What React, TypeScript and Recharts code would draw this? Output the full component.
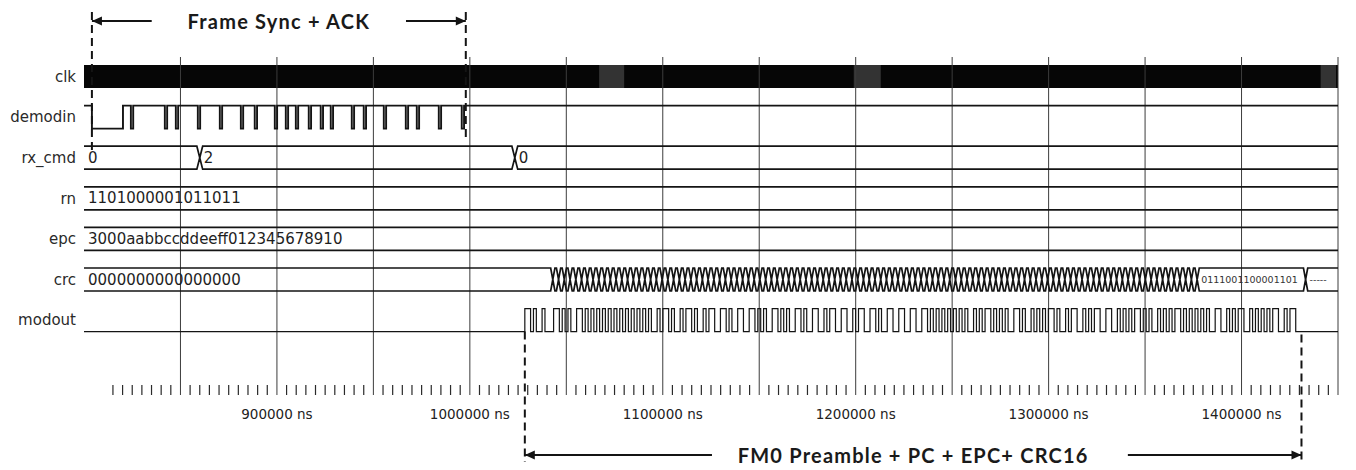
import React from "react"
import {
  ComposedChart,
  Line,
  Scatter,
  XAxis,
  YAxis,
  ReferenceLine,
  ReferenceArea,
  ReferenceDot,
} from "recharts"

// ---- time axis (ns) ----
const timeDomain = [800000, 1450000]
const gridTimes = [
  850000, 900000, 950000, 1000000, 1050000, 1100000, 1150000, 1200000, 1250000, 1300000, 1350000,
  1400000, 1450000,
]
const timeLabels = [900000, 1000000, 1100000, 1200000, 1300000, 1400000]
const rulerFirst = 815000
const rulerStep = 5000

// ---- signals, top to bottom ----
const signalNames = ["clk", "demodin", "rx_cmd", "rn", "epc", "crc", "modout"]

// clk toggles too fast to resolve: a solid band with a few lighter patches
const clkSpan = [800000, 1450000]
const clkPatches = [
  [1067000, 1080000],
  [1199000, 1213000],
  [1441000, 1449000],
]

// demodin: long low, then short low pulses (centre times)
const demodinFall = 804100
const demodinRise = 820200
const demodinPulses = [
  824900, 842500, 848200, 859600, 871000, 881900, 889100, 899500, 905200, 910400, 917100, 923300,
  928500, 939400, 945600, 956000, 967400, 973100, 984500, 996400,
]
const demodinPulseWidth = 1200

// rx_cmd bus
const rxCmdChanges = [860000, 1023300]
const rxCmdValues = ["0", "2", "0"]

const rnValue = "1101000001011011"
const epcValue = "3000aabbccddeeff012345678910"

// crc bus: updated once per PC+EPC bit, then holds the final value
const crcInitial = "0000000000000000"
const crcFinal = "0111001100001101"
const crcTail = "-----"
const crcFirstUpdate = 1043000
const crcTailChange = 1433200

// modout: FM0 encoded reply (preamble + PC/EPC + CRC16 + dummy 1)
const modoutStart = 1028500
const bitNs = 2982
const fm0Preamble = ["1", "0", "1", "0", "v", "1"]
const dummyBit = ["1"]

// ---- lane layout (y axis runs in pixels, 0 at top) ----
const LANE_TOP = 65
const LANE_PITCH = 40.6
const LANE_H = 23
const PLOT_BOTTOM = 395
const hi = (i: number) => LANE_TOP + i * LANE_PITCH
const lo = (i: number) => hi(i) + LANE_H
const mid = (i: number) => hi(i) + LANE_H / 2
const laneCenters = signalNames.map((_, i) => mid(i))

const T0 = timeDomain[0]
const T1 = timeDomain[1]
const INK = "#141414"
const FONT = "'DejaVu Sans', sans-serif"

const hexToBits = (hex: string) =>
  hex
    .split("")
    .map((h) => parseInt(h, 16).toString(2).padStart(4, "0"))
    .join("")
    .split("")

const epcBits = hexToBits(epcValue)
const replyBits = [...fm0Preamble, ...epcBits, ...crcFinal.split(""), ...dummyBit]
const modoutEnd = modoutStart + replyBits.length * bitNs
const crcUpdates = [...epcBits, "final"].map((_, i) => crcFirstUpdate + i * bitNs)
const crcFinalStart = crcUpdates[crcUpdates.length - 1]

function fm0(bits: string[], start: number) {
  let level = 0
  const pts: { t: number; level: number }[] = []
  bits.forEach((b, i) => {
    const t = start + i * bitNs
    if (b !== "v") level = 1 - level
    pts.push({ t, level })
    if (b === "0") {
      level = 1 - level
      pts.push({ t: t + bitNs / 2, level })
    }
  })
  pts.push({ t: start + bits.length * bitNs, level: 0 })
  return pts
}

function busEdges(lane: number, changes: number[], half: number) {
  const top = [{ t: T0, y: hi(lane) }]
  const bot = [{ t: T0, y: lo(lane) }]
  changes.forEach((c) => {
    top.push({ t: c - half, y: hi(lane) }, { t: c, y: mid(lane) }, { t: c + half, y: hi(lane) })
    bot.push({ t: c - half, y: lo(lane) }, { t: c, y: mid(lane) }, { t: c + half, y: lo(lane) })
  })
  top.push({ t: T1, y: hi(lane) })
  bot.push({ t: T1, y: lo(lane) })
  return [top, bot]
}

// series tables
const demodinData = [
  { t: T0, y: hi(1) },
  { t: demodinFall, y: lo(1) },
  { t: demodinRise, y: hi(1) },
]
demodinPulses.forEach((c) => {
  demodinData.push({ t: c - demodinPulseWidth / 2, y: lo(1) }, { t: c + demodinPulseWidth / 2, y: hi(1) })
})
demodinData.push({ t: T1, y: hi(1) })

const modoutData = [
  { t: T0, y: lo(6) },
  ...fm0(replyBits, modoutStart).map((p) => ({ t: p.t, y: p.level ? hi(6) : lo(6) })),
  { t: T1, y: lo(6) },
]

const buses = [
  ...busEdges(2, rxCmdChanges, 1500),
  ...busEdges(3, [], 0),
  ...busEdges(4, [], 0),
  ...busEdges(5, [...crcUpdates, crcTailChange], 1100),
]

const busLabels = [
  { t: T0, y: mid(2), text: rxCmdValues[0] },
  { t: rxCmdChanges[0], y: mid(2), text: rxCmdValues[1] },
  { t: rxCmdChanges[1], y: mid(2), text: rxCmdValues[2] },
  { t: T0, y: mid(3), text: rnValue },
  { t: T0, y: mid(4), text: epcValue },
  { t: T0, y: mid(5), text: crcInitial },
]
const crcSmallLabels = [
  { t: crcFinalStart, y: mid(5), text: crcFinal },
  { t: crcTailChange, y: mid(5), text: crcTail },
]

const rulerTicks: number[] = []
for (let t = rulerFirst; t <= T1; t += rulerStep) rulerTicks.push(t)

function RulerTick(props: any) {
  const { x, y, payload } = props
  const v = payload.value
  const major = v % 50000 === 0
  return (
    <g>
      {!major && <line x1={x} x2={x} y1={y - 10} y2={y} stroke="#2a2a2a" strokeWidth={1.2} />}
      {timeLabels.includes(v) && (
        <text x={x} y={y + 19} textAnchor="middle" dominantBaseline="central" fontFamily={FONT} fontSize={13.5} fill="#222">
          {v} ns
        </text>
      )}
    </g>
  )
}

const bigLabel = (props: any) => (
  <text x={props.cx + 4} y={props.cy} dominantBaseline="central" fontFamily={FONT} fontSize={15} fill="#1e1e1e">
    {props.payload.text}
  </text>
)
const smallLabel = (props: any) => (
  <text x={props.cx + 4} y={props.cy} dominantBaseline="central" fontFamily={FONT} fontSize={9.5} fill="#333">
    {props.payload.text}
  </text>
)
const arrowHead = (dir: number) => (props: any) => {
  const { cx, cy } = props
  const L = 10
  const W = 4.5
  const pts =
    dir < 0
      ? `${cx},${cy} ${cx + L},${cy - W} ${cx + L},${cy + W}`
      : `${cx},${cy} ${cx - L},${cy - W} ${cx - L},${cy + W}`
  return <polygon points={pts} fill={INK} />
}
const caption = (text: string) => (props: any) => (
  <text x={props.cx} y={props.cy} textAnchor="middle" dominantBaseline="central" fontFamily="Lato, sans-serif" fontWeight={700} fontSize={20} letterSpacing={1.2} fill="#1a1a1a">
    {text}
  </text>
)

// annotation spans
const frameStart = demodinFall
const frameEnd = 997900
const frameArrow = 31000
const replyArrowLeft = 97000
const replyArrowRight = 90000
const TOP_Y = 21
const BOTTOM_Y = 455

export default function App() {
  return (
    <div style={{ position: "absolute", left: 0, top: 0, width: 1356, height: 470, background: "#fff" }}>
      <ComposedChart width={1356} height={470} margin={{ top: 0, right: 18, bottom: 45, left: 0 }}>
        <XAxis
          type="number"
          dataKey="t"
          domain={timeDomain}
          allowDataOverflow
          ticks={rulerTicks}
          interval={0}
          tick={(p: any) => <RulerTick {...p} />}
          tickLine={false}
          axisLine={false}
          tickSize={0}
          tickMargin={0}
          height={30}
        />
        <YAxis
          type="number"
          dataKey="y"
          domain={[0, PLOT_BOTTOM]}
          reversed
          allowDataOverflow
          ticks={laneCenters}
          interval={0}
          tickFormatter={(v: number) => signalNames[laneCenters.indexOf(v)] ?? ""}
          width={84}
          axisLine={false}
          tickLine={false}
          tick={{ fontFamily: FONT, fontSize: 15, fill: "#2a2a2a" }}
        />

        {gridTimes.map((t) => (
          <ReferenceLine
            key={"g" + t}
            segment={[
              { x: t, y: 57 },
              { x: t, y: PLOT_BOTTOM },
            ]}
            stroke="#3c3c3c"
            strokeWidth={1}
            ifOverflow="visible"
          />
        ))}

        <ReferenceArea x1={clkSpan[0]} x2={clkSpan[1]} y1={hi(0)} y2={lo(0)} fill="#060606" fillOpacity={1} stroke="none" ifOverflow="visible" />
        {clkPatches.map(([a, b]) => (
          <ReferenceArea key={"p" + a} x1={a} x2={b} y1={hi(0)} y2={lo(0)} fill="#333" fillOpacity={1} stroke="none" ifOverflow="visible" />
        ))}

        <Line data={demodinData} dataKey="y" type="stepAfter" stroke={INK} strokeWidth={1.9} dot={false} activeDot={false} isAnimationActive={false} />
        {buses.map((d, i) => (
          <Line key={"b" + i} data={d} dataKey="y" type="linear" stroke={INK} strokeWidth={1.7} dot={false} activeDot={false} isAnimationActive={false} />
        ))}
        <Line data={modoutData} dataKey="y" type="stepAfter" stroke={INK} strokeWidth={1.2} dot={false} activeDot={false} isAnimationActive={false} />

        <Scatter data={busLabels} dataKey="y" shape={bigLabel} isAnimationActive={false} />
        <Scatter data={crcSmallLabels} dataKey="y" shape={smallLabel} isAnimationActive={false} />

        {/* Frame Sync + ACK */}
        <ReferenceLine segment={[{ x: frameStart, y: 12 }, { x: frameStart, y: 150 }]} stroke={INK} strokeWidth={2} strokeDasharray="8 5" ifOverflow="visible" />
        <ReferenceLine segment={[{ x: frameEnd, y: 12 }, { x: frameEnd, y: 142 }]} stroke={INK} strokeWidth={2} strokeDasharray="8 5" ifOverflow="visible" />
        <ReferenceLine segment={[{ x: frameStart, y: TOP_Y }, { x: frameStart + frameArrow, y: TOP_Y }]} stroke={INK} strokeWidth={2} ifOverflow="visible" />
        <ReferenceLine segment={[{ x: frameEnd - frameArrow, y: TOP_Y }, { x: frameEnd, y: TOP_Y }]} stroke={INK} strokeWidth={2} ifOverflow="visible" />
        <ReferenceDot x={frameStart} y={TOP_Y} r={0} shape={arrowHead(-1)} ifOverflow="visible" />
        <ReferenceDot x={frameEnd} y={TOP_Y} r={0} shape={arrowHead(1)} ifOverflow="visible" />
        <ReferenceDot x={(frameStart + frameEnd) / 2} y={TOP_Y} r={0} shape={caption("Frame Sync + ACK")} ifOverflow="visible" />

        {/* FM0 reply */}
        <ReferenceLine segment={[{ x: modoutStart, y: lo(6) }, { x: modoutStart, y: 462 }]} stroke={INK} strokeWidth={2} strokeDasharray="8 5" ifOverflow="visible" />
        <ReferenceLine segment={[{ x: modoutEnd, y: lo(6) + 3 }, { x: modoutEnd, y: 462 }]} stroke={INK} strokeWidth={2} strokeDasharray="8 5" ifOverflow="visible" />
        <ReferenceLine segment={[{ x: modoutStart, y: BOTTOM_Y }, { x: modoutStart + replyArrowLeft, y: BOTTOM_Y }]} stroke={INK} strokeWidth={2} ifOverflow="visible" />
        <ReferenceLine segment={[{ x: modoutEnd - replyArrowRight, y: BOTTOM_Y }, { x: modoutEnd, y: BOTTOM_Y }]} stroke={INK} strokeWidth={2} ifOverflow="visible" />
        <ReferenceDot x={modoutStart} y={BOTTOM_Y} r={0} shape={arrowHead(-1)} ifOverflow="visible" />
        <ReferenceDot x={modoutEnd} y={BOTTOM_Y} r={0} shape={arrowHead(1)} ifOverflow="visible" />
        <ReferenceDot x={(modoutStart + modoutEnd) / 2} y={BOTTOM_Y} r={0} shape={caption("FM0 Preamble + PC + EPC+ CRC16")} ifOverflow="visible" />
      </ComposedChart>
    </div>
  )
}
